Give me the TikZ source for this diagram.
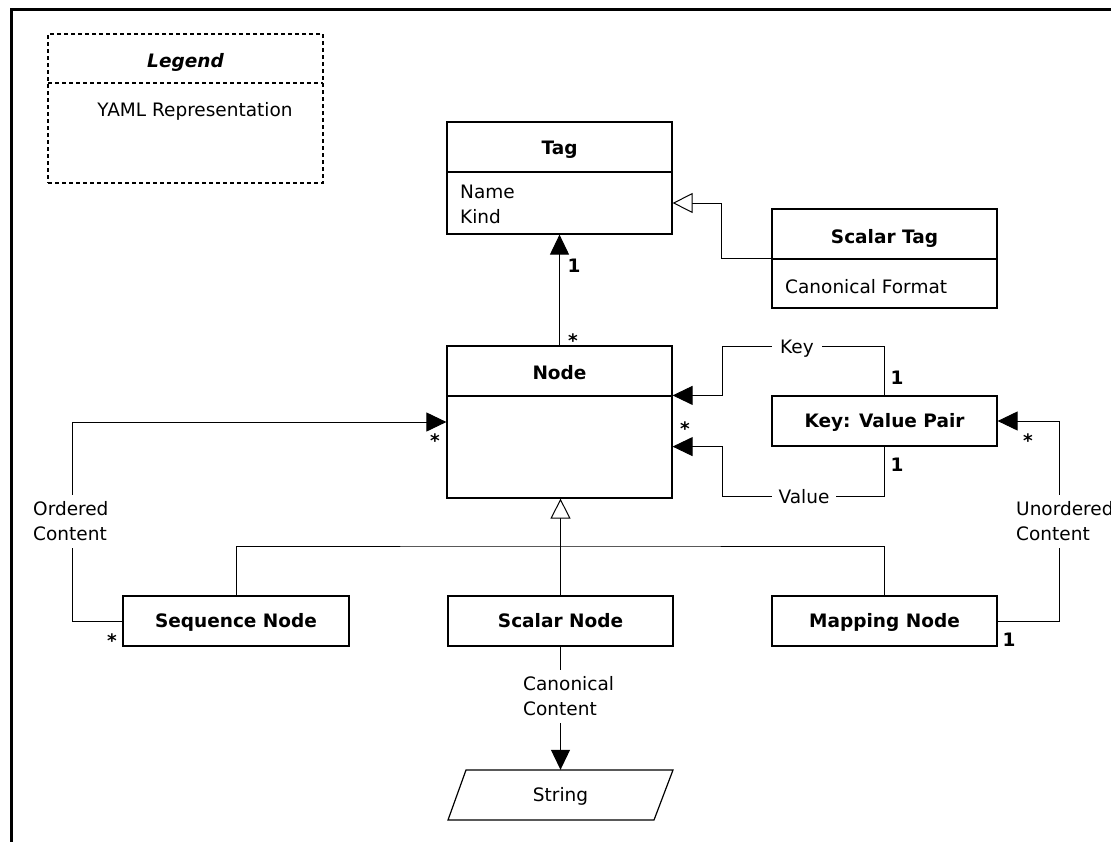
\documentclass[tikz,border=0pt]{standalone}
\usepackage{fontspec}
\setmainfont{DejaVu Sans}
\usetikzlibrary{arrows.meta,calc}
\newcommand{\myfont}{\fontsize{18.5}{25}\selectfont}
\begin{document}
\begin{tikzpicture}[x=1pt,y=-1pt,
 txt/.style={inner sep=0pt, text height=13.5pt, text depth=0pt, font=\myfont},
 mtxt/.style={inner sep=0pt, font=\myfont, align=left},
 ttl/.style={txt, font=\myfont\bfseries},
 mult/.style={txt, font=\myfont\bfseries},
 box/.style={draw, line width=1.2pt, inner sep=0pt},
 sepline/.style={line width=1.2pt},
 ln/.style={line width=1pt},
 assoc/.style={ln, -{Triangle[length=20pt,width=19pt]}},
 gen/.style={ln, -{Triangle[open,length=20pt,width=20pt,fill=white]}},
 lbl/.style={txt, fill=white, inner sep=7pt},
 mlbl/.style={mtxt, fill=white, inner sep=7pt},
 legdash/.style={line width=2pt, dash pattern=on 4pt off 3pt},
]
\useasboundingbox (0,0) rectangle (1111,841);
% frame
\draw[line width=3pt] (11,860) -- (11,9.5) -- (1130,9.5);

% legend
\node[box, legdash, minimum width=275pt, minimum height=149pt] (legend) at (185.5,108.5) {};
\draw[legdash] (48,83) -- (323,83);
\node[txt, font=\myfont\bfseries\itshape] (legendttl) at (185.5,61) {Legend};
\node[txt] (legendtxt) at (195,110) {YAML Representation};

% Tag
\node[box, minimum width=225pt, minimum height=112pt] (tag) at (559.5,178) {};
\draw[sepline] (447,172) -- (672,172);
\node[ttl] (tagttl) at (559.5,148) {Tag};
\node[mtxt, anchor=west] (tagattr) at (460,204.5) {Name\\Kind};

% Scalar Tag
\node[box, minimum width=225pt, minimum height=99pt] (stag) at (884.5,258.5) {};
\draw[sepline] (772,259) -- (997,259);
\node[ttl] (stagttl) at (884.5,237) {Scalar Tag};
\node[txt, anchor=west] (stagattr) at (785,287) {Canonical Format};

% Node
\node[box, minimum width=225pt, minimum height=152pt] (ynode) at (559.5,422) {};
\draw[sepline] (447,396) -- (672,396);
\node[ttl] (ynodettl) at (559.5,373) {Node};

% Key: Value Pair
\node[box, ttl, minimum width=225pt, minimum height=50pt] (kvp) at (884.5,421) {Key: Value Pair};

% bottom row
\node[box, ttl, minimum width=226pt, minimum height=50pt] (seq) at (236,621) {Sequence Node};
\node[box, ttl, minimum width=225pt, minimum height=50pt] (scalar) at (560.5,621) {Scalar Node};
\node[box, ttl, minimum width=225pt, minimum height=50pt] (mapping) at (884.5,621) {Mapping Node};

% String
\draw[line width=1.2pt] (466,770) -- (673,770) -- (654,820) -- (448,820) -- cycle;
\node[txt, minimum width=206pt, minimum height=50pt] (string) at (560.5,795) {String};

% connectors
\draw[gen] (stag.west) -- ++(-50,0) |- ($(tag.east)+(0,25)$);
\draw[assoc] (ynode.north) -- (tag.south);
\draw[assoc] (kvp.north) -- ++(0,-49) -| ($(ynode.east |- kvp.north)+(50,0)$) -- (ynode.east |- kvp.north);
\draw[assoc] (kvp.south) -- ++(0,50) -| ($(ynode.east |- kvp.south)+(50,0)$) -- (ynode.east |- kvp.south);
\draw[assoc] (seq.west) -- ++(-50,0) |- (ynode.west);
\draw[assoc] (mapping.east) -- ++(62,0) |- (kvp.east);
\coordinate (genbus) at (560.5,546);
\draw[ln] (seq.north) |- (genbus) -| (mapping.north);
\draw[gen] (scalar.north) -- (scalar.north |- ynode.south);
\draw[assoc] (scalar.south) -- (string.north);

% connector labels
\node[lbl, inner xsep=8pt, inner ysep=2pt] (keylbl) at (797,347) {Key};
\node[lbl, inner xsep=7pt, inner ysep=2pt] (vallbl) at (804,496.5) {Value};
\node[mlbl, anchor=west] (ordlbl) at (26,521.5) {Ordered\\Content};
\node[mlbl, anchor=west] (unordlbl) at (1009,521.5) {Unordered\\Content};
\node[mlbl, anchor=west] (canlbl) at (516,696.5) {Canonical\\Content};

% multiplicities
\node[mult] (m1) at (574,266) {1};
\node[mult] (m2) at (573,341) {*};
\node[mult] (m3) at (685,429) {*};
\node[mult] (m4) at (897,378) {1};
\node[mult] (m5) at (897,465) {1};
\node[mult] (m6) at (1028,441) {*};
\node[mult] (m7) at (1009,640) {1};
\node[mult] (m8) at (435,441) {*};
\node[mult] (m9) at (112,641) {*};
\end{tikzpicture}
\end{document}
